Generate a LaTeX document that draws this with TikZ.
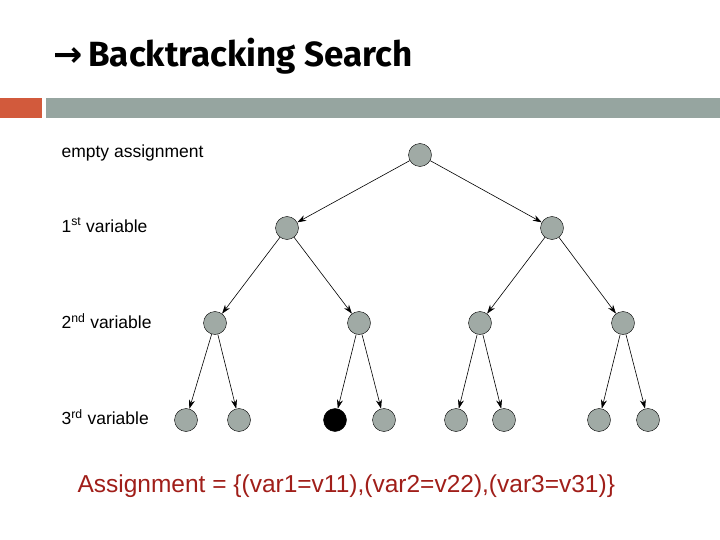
\documentclass[tikz,border=0pt]{standalone}
\usepackage{fontspec}
\setmainfont{Liberation Sans}
\newfontfamily\titlefont{Fira Sans}
\newfontfamily\symfont{DejaVu Sans}
\usetikzlibrary{arrows.meta}
\definecolor{nodegray}{RGB}{160,170,165}
\definecolor{bargray}{RGB}{150,165,160}
\definecolor{barorange}{RGB}{210,90,60}
\definecolor{assigncol}{RGB}{160,30,25}
\tikzset{
  state/.style={circle, draw=black, fill=nodegray, minimum size=23pt, inner sep=0pt},
  picked/.style={state, fill=black},
  edge/.style={-{Stealth[length=9pt,width=6pt]}, semithick},
  level/.style={anchor=west, font=\fontsize{17.5}{20}\selectfont}
}
\begin{document}
\begin{tikzpicture}[x=1pt,y=-1pt]
  \useasboundingbox (0,0) rectangle (720,540);
  % Titel
  \node[anchor=west, font=\fontsize{35}{40}\selectfont, inner sep=0pt] (title) at (53,56)
    {\symfont\bfseries →\,\titlefont\bfseries Backtracking Search};
  \fill[barorange] (0,98) rectangle (42,118);
  \fill[bargray] (46,98) rectangle (720,118);
  % Ebenen
  \node[level] (l0) at (58,153) {empty assignment};
  \node[level] (l1) at (58,225) {1\textsuperscript{st} variable};
  \node[level] (l2) at (58,321) {2\textsuperscript{nd} variable};
  \node[level] (l3) at (58,417) {3\textsuperscript{rd} variable};
  % Knoten
  \node[state] (r) at (420,155) {};
  \node[state] (a) at (287,228) {};
  \node[state] (b) at (552,228) {};
  \node[state] (aa) at (215,323) {};
  \node[state] (ab) at (359,323) {};
  \node[state] (ba) at (480,323) {};
  \node[state] (bb) at (623,323) {};
  \node[state] (aaa) at (186,420) {};
  \node[state] (aab) at (239,420) {};
  \node[picked] (aba) at (335,420) {};
  \node[state] (abb) at (384,420) {};
  \node[state] (baa) at (456,420) {};
  \node[state] (bab) at (504,420) {};
  \node[state] (bba) at (599,420) {};
  \node[state] (bbb) at (648,420) {};
  % Kanten
  \foreach \p/\c in {r/a, r/b, a/aa, a/ab, b/ba, b/bb,
                     aa/aaa, aa/aab, ab/aba, ab/abb, ba/baa, ba/bab, bb/bba, bb/bbb}
    \draw[edge] (\p) -- (\c);
  % Ergebnis
  \node[anchor=west, text=assigncol, font=\fontsize{24.5}{28}\selectfont] (result) at (74,486)
    {Assignment = \{(var1=v11),(var2=v22),(var3=v31)\}};
\end{tikzpicture}
\end{document}
